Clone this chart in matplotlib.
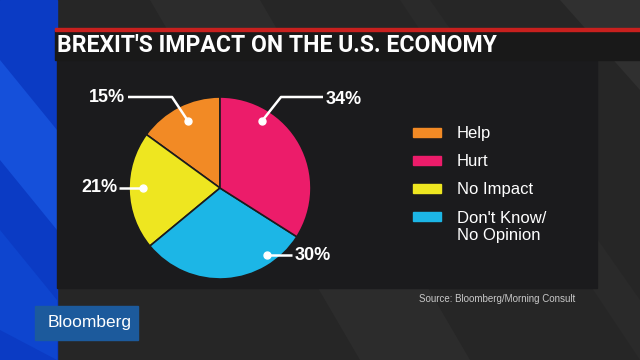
import matplotlib
matplotlib.use("Agg")
import matplotlib.pyplot as plt
from matplotlib.patches import Rectangle, Polygon
import numpy as np

# data, in legend order
categories = ["Help", "Hurt", "No Impact", "Don't Know/\nNo Opinion"]
shares = [15, 34, 21, 30]
colors = ["#F28A25", "#EC1C6A", "#EEE620", "#1CB6E6"]
pct_labels = ["15%", "34%", "21%", "30%"]

# pie goes counter-clockwise from 12 o'clock: Help, No Impact, Don't Know, Hurt
pie_order = [0, 2, 3, 1]

title = "BREXIT'S IMPACT ON THE U.S. ECONOMY"
source = "Source: Bloomberg/Morning Consult"

W, H = 640, 360
fig = plt.figure(figsize=(6.4, 3.6), dpi=100)
ax = fig.add_axes([0, 0, 1, 1])

def y(v):
    # pixel row (from top) -> axis y
    return H - v

# background
ax.add_patch(Rectangle((0, 0), W, H, color="#262626", zorder=0))
for pts, c in [
    ([(150, y(0)), (260, y(0)), (470, y(360)), (360, y(360))], "#2c2c2c"),
    ([(400, y(0)), (430, y(0)), (640, y(300)), (640, y(360))], "#2a2a2a"),
    ([(560, y(0)), (640, y(0)), (640, y(90))], "#303030"),
]:
    ax.add_patch(Polygon(pts, closed=True, color=c, lw=0, zorder=0.5))
# blue strip at left
ax.add_patch(Rectangle((0, 0), 57, H, color="#0B3BC4", zorder=1))
ax.add_patch(Polygon([(0, y(60)), (57, y(130)), (57, y(230)), (0, y(160))],
                     color="#1550DA", lw=0, zorder=1.1))
ax.add_patch(Polygon([(0, y(230)), (57, y(300)), (57, y(360)), (0, y(330))],
                     color="#0E45CF", lw=0, zorder=1.1))
# chart panel
ax.add_patch(Rectangle((57, y(288)), 540, 228, color="#1B1B1D", zorder=2))
# title bar with red rule
ax.add_patch(Rectangle((55, y(60)), W - 55, 30, color="#191919", zorder=3))
ax.add_patch(Rectangle((55, y(30.5)), W - 55, 2.5, color="#C8201E", zorder=3.5))
ax.text(57, y(52), title, color="white", fontsize=16.6, fontweight="bold",
        family="Roboto", va="baseline", ha="left", zorder=4)

# pie
cx, cy, r = 220, y(188), 91
wedges, _ = ax.pie([shares[i] for i in pie_order],
                   colors=[colors[i] for i in pie_order],
                   startangle=90, counterclock=True, radius=r, center=(cx, cy),
                   wedgeprops=dict(edgecolor="#1B1B1D", linewidth=1.2, zorder=5))
for w in wedges:
    w.set_zorder(5)

# leader lines: label pos, path from label to dot (pixels), label alignment
leaders = {
    "15%": dict(txt=(125, 98), ha="right", path=[(128, 97), (172, 97), (188, 121)]),
    "34%": dict(txt=(326, 99), ha="left", path=[(323, 97), (281, 97), (262, 121)]),
    "21%": dict(txt=(117, 188), ha="right", path=[(119, 188), (143, 188)]),
    "30%": dict(txt=(295, 255), ha="left", path=[(292, 255), (267, 255)]),
}
for lab in pct_labels:
    d = leaders[lab]
    xs = [p[0] for p in d["path"]]
    ys = [y(p[1]) for p in d["path"]]
    ax.plot(xs, ys, color="white", lw=1.8, solid_capstyle="butt", zorder=6)
    ax.plot(xs[-1], ys[-1], "o", color="white", ms=5, zorder=6)
    ax.text(d["txt"][0], y(d["txt"][1]), lab, color="white", fontsize=13,
            fontweight="bold", family="Liberation Sans", ha=d["ha"],
            va="center", zorder=6)

# legend (baselines of first line; 18 px per extra line)
leg_base = [138, 166, 194, 222]
for cat, col, lb in zip(categories, colors, leg_base):
    ax.add_patch(Rectangle((413, y(lb - 1)), 28, 9, color=col, zorder=6))
    extra = cat.count("\n") * 18
    ax.text(457, y(lb + extra), cat, color="white", fontsize=12,
            family="Liberation Sans", ha="left", va="baseline",
            linespacing=1.2, zorder=6)

ax.text(575, y(299), source, color="#C8C8C8", fontsize=7, family="Liberation Sans",
        ha="right", va="center", zorder=6)

# Bloomberg logo box
ax.add_patch(Rectangle((35, y(340)), 103, 34, color="#1C5A9C", zorder=7))
ax.text(90, y(323), "Bloomberg", color="white", fontsize=12.5,
        family="Liberation Sans", ha="center", va="center", zorder=8)

ax.set_xlim(0, W)
ax.set_ylim(0, H)
ax.set_aspect("equal")
ax.axis("off")
fig.savefig("out.png", dpi=100, facecolor="#262626")
